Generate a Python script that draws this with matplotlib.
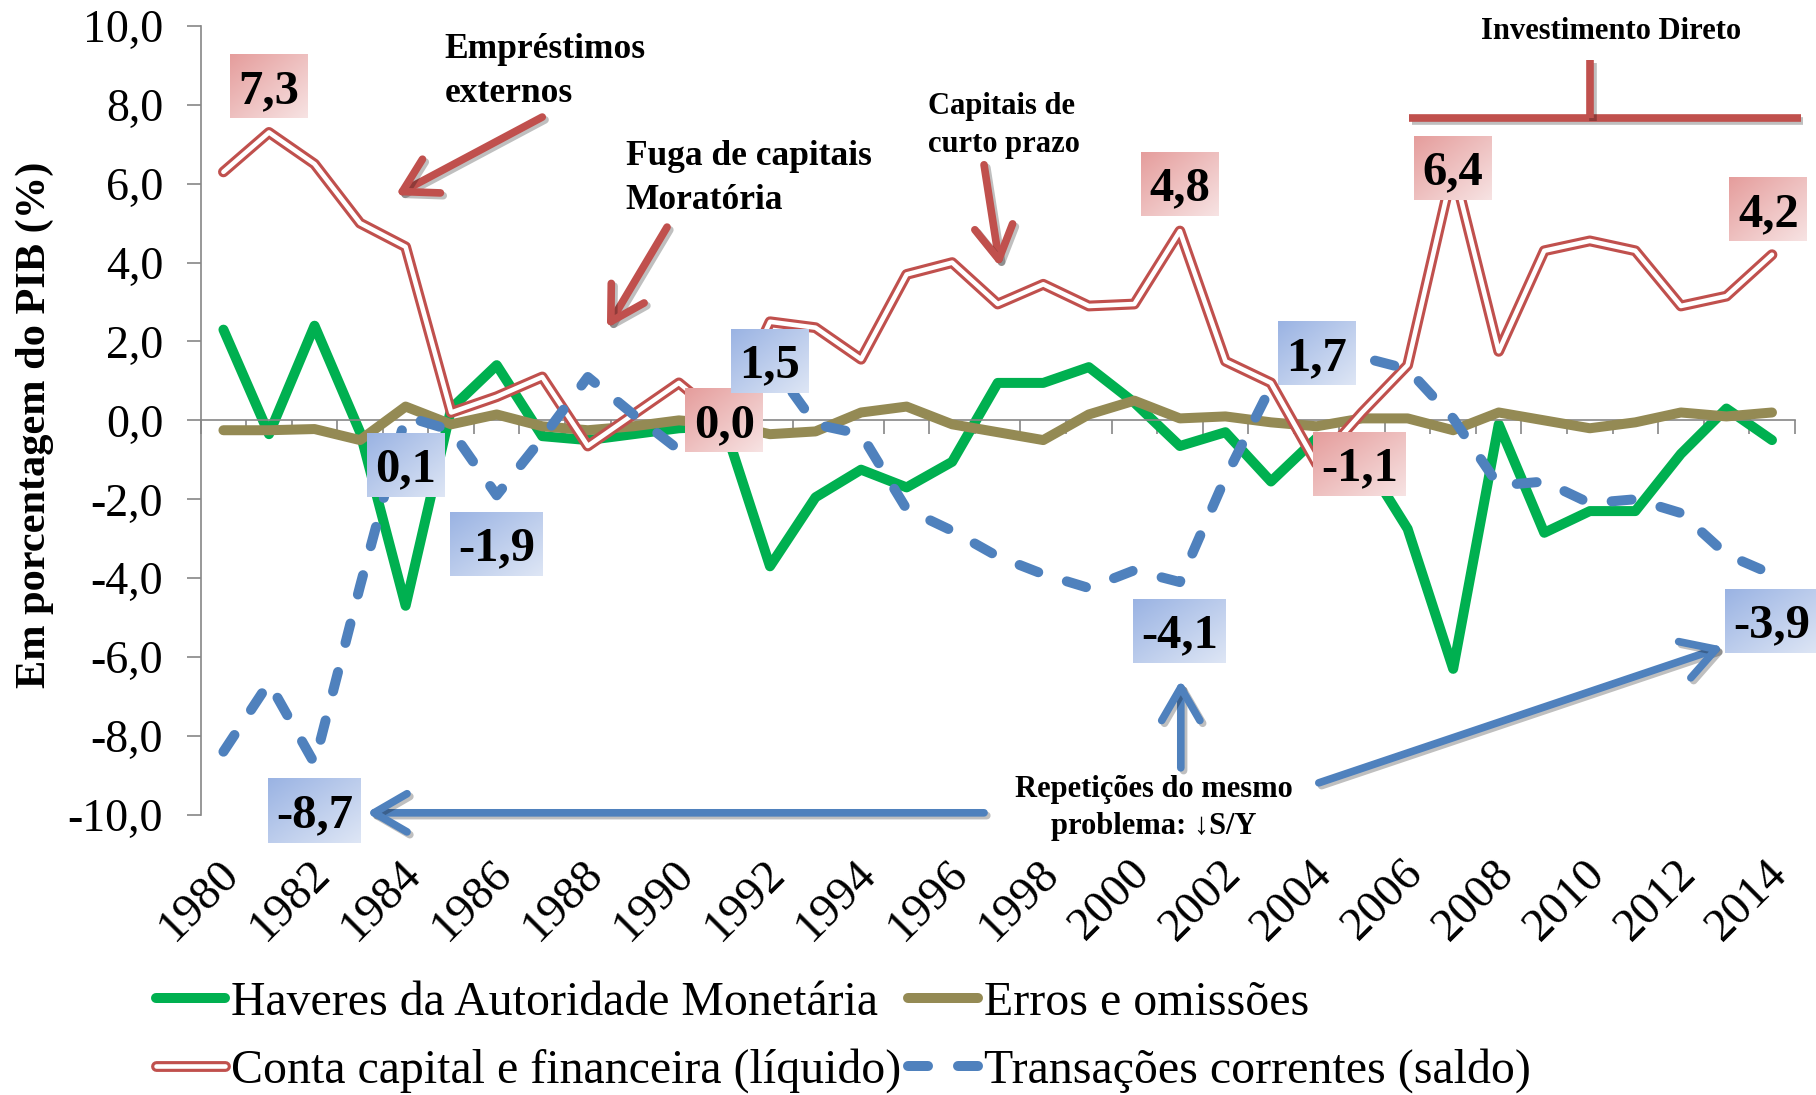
import numpy as np
import matplotlib
matplotlib.use("Agg")
import matplotlib.pyplot as plt
import matplotlib.patheffects as pe
from matplotlib.lines import Line2D
from matplotlib.legend_handler import HandlerTuple
from matplotlib.transforms import offset_copy

plt.rcParams['font.family'] = ['Liberation Serif', 'DejaVu Serif']
plt.rcParams['lines.scale_dashes'] = False

# data (% do PIB), 1980-2014
years = list(range(1980, 2015))
haveres = [2.3, -0.35, 2.4, -0.3, -4.7, 0.3, 1.4, -0.4, -0.5, -0.35,
           -0.2, -0.15, -3.7, -1.95, -1.25, -1.7, -1.05, 0.95, 0.95, 1.35,
           0.45, -0.65, -0.3, -1.55, -0.45, -0.9, -2.75, -6.3, -0.1, -2.85,
           -2.3, -2.3, -0.85, 0.3, -0.5]
erros = [-0.25, -0.25, -0.22, -0.5, 0.35, -0.1, 0.15, -0.15, -0.25, -0.15,
         0.0, -0.1, -0.35, -0.28, 0.2, 0.35, -0.1, -0.3, -0.5, 0.15,
         0.5, 0.05, 0.1, -0.05, -0.15, 0.05, 0.05, -0.25, 0.2, 0.0,
         -0.2, -0.05, 0.2, 0.1, 0.2]
conta_capital = [6.3, 7.3, 6.5, 5.0, 4.4, 0.2, 0.6, 1.1, -0.65, 0.15,
                 0.95, 0.0, 2.5, 2.35, 1.55, 3.7, 4.0, 2.95, 3.45, 2.9,
                 2.95, 4.8, 1.5, 0.95, -1.1, 0.2, 1.4, 6.4, 1.75, 4.3,
                 4.55, 4.3, 2.9, 3.15, 4.2]
transacoes = [-8.4, -6.65, -8.7, -4.2, 0.1, -0.25, -1.9, -0.45, 1.1, 0.15,
              -0.75, -0.35, 1.5, -0.1, -0.35, -2.25, -2.8, -3.45, -3.9, -4.25,
              -3.8, -4.1, -1.45, 0.85, 1.7, 1.6, 1.3, 0.05, -1.65, -1.55,
              -2.1, -2.0, -2.35, -3.4, -3.9]

series_names = ['Haveres da Autoridade Monetária', 'Erros e omissões',
                'Conta capital e financeira (líquido)', 'Transações correntes (saldo)']

# highlighted values: (year, dx, dy)
red_labels = [(1981, 0, 1.17), (1991, 0, 0.0), (2001, 0, 1.19), (2004, 0.95, 0.0),
              (2007, 0, 0.0), (2014, -0.08, 1.15)]
blue_labels = [(1982, 0, -1.2), (1984, 0, -1.23), (1986, 0, -1.23), (1992, 0, 0.0),
               (2001, 0, -1.23), (2004, 0, 0.0), (2014, 0, -1.19)]

GREEN = '#00B050'
BROWN = '#948A54'
RED = '#C0504D'
BLUE = '#4F81BD'
GREY = '#868686'

W, H, DPI = 1816, 1095, 100
fig = plt.figure(figsize=(W / DPI, H / DPI), dpi=DPI)
ax = fig.add_axes([0.1105, 0.2559, 0.8778, 0.7204])

lw = 7.2
ax.plot(years, haveres, color=GREEN, lw=lw, solid_joinstyle='round', solid_capstyle='round', zorder=2)
ax.plot(years, erros, color=BROWN, lw=lw, solid_joinstyle='round', solid_capstyle='round', zorder=3)
ax.plot(years, conta_capital, color=RED, lw=7.8, solid_joinstyle='round', solid_capstyle='round', zorder=4)
ax.plot(years, conta_capital, color='white', lw=3.3, solid_joinstyle='round', solid_capstyle='round', zorder=4)
ax.plot(years, transacoes, color=BLUE, lw=lw, dashes=(14.4, 21.6), dash_capstyle='round', zorder=5)

ax.set_xlim(1979.5, 2014.5)
ax.set_ylim(-10, 10)

# axes styling
for s in ['top', 'right']:
    ax.spines[s].set_visible(False)
ax.spines['left'].set_color(GREY)
ax.spines['bottom'].set_color(GREY)
ax.spines['left'].set_linewidth(1.2)
ax.spines['bottom'].set_linewidth(1.2)
ax.spines['bottom'].set_position(('data', 0))

yt = np.arange(-10, 11, 2)
ax.set_yticks(yt)
ax.set_yticklabels([f'{v:.1f}'.replace('.', ',') for v in yt], fontsize=33)
ax.set_xticks(np.arange(1979.5, 2015, 1.0))
ax.set_xticklabels([])
ax.tick_params(axis='both', direction='out', length=10, width=1.2, color=GREY)
ax.tick_params(axis='y', pad=17)

lab_tr = offset_copy(ax.transData, fig=fig, x=-6, y=-37, units='dots')
for yr in years[::2]:
    ax.text(yr, -10, str(yr), rotation=45, rotation_mode='anchor', ha='right', va='top',
            fontsize=34, transform=lab_tr)

fig.text(34.5 / W, 1 - 425 / H, 'Em porcentagem do PIB (%)', rotation=90, ha='center', va='center',
         fontsize=30.5, fontweight='bold')

# value boxes with gradient
px_year = 0.8778 * W / 35
px_unit = 0.7204 * H / 20


def grad_box(xc, yc, text, c0, c1):
    w = 78 if len(text) < 4 else 93
    h = 64
    dx = w / 2 / px_year
    dy = h / 2 / px_unit
    u = np.linspace(0, 1, 60)
    t = (u[None, :] + u[:, None]) / 2
    c0 = np.array(matplotlib.colors.to_rgb(c0))
    c1 = np.array(matplotlib.colors.to_rgb(c1))
    img = c0[None, None, :] * (1 - t[..., None]) + c1[None, None, :] * t[..., None]
    ax.imshow(img, extent=(xc - dx, xc + dx, yc - dy, yc + dy), origin='upper',
              aspect='auto', zorder=10, interpolation='bilinear', clip_on=False)
    ax.text(xc, yc - 16.5 / px_unit, text, ha='center', va='baseline', fontsize=35,
            fontweight='bold', zorder=11)


def fmt(v):
    return f'{v:.1f}'.replace('.', ',')


for yr, dx, dy in red_labels:
    v = conta_capital[years.index(yr)]
    grad_box(yr + dx, v + dy, fmt(v), '#E59D9C', '#F7E3E3')
for yr, dx, dy in blue_labels:
    v = transacoes[years.index(yr)]
    grad_box(yr + dx, v + dy, fmt(v), '#9AB3E3', '#DEE6F5')

ax.set_xlim(1979.5, 2014.5)
ax.set_ylim(-10, 10)

# annotation arrows
shadow = [pe.SimpleLineShadow(offset=(2, -2), alpha=0.25), pe.Normal()]


def arrow(p_from, p_to, color):
    ax.annotate('', xy=p_to, xytext=p_from, annotation_clip=False,
                arrowprops=dict(arrowstyle='->,head_length=0.95,head_width=0.55', color=color,
                                lw=5.5, mutation_scale=25, shrinkA=0, shrinkB=0,
                                capstyle='round', joinstyle='round', clip_on=False,
                                path_effects=shadow), zorder=7)


arrow((1987.0, 7.69), (1983.78, 5.71), RED)
arrow((1989.74, 4.90), (1988.42, 2.34), RED)
arrow((1996.70, 6.48), (1997.05, 3.89), RED)
arrow((1996.70, -9.95), (1983.14, -9.95), BLUE)
arrow((2001.02, -8.81), (2001.02, -6.58), BLUE)
arrow((2004.05, -9.19), (2012.93, -5.74), BLUE)

# bracket for direct investment
ax.plot([2006.03, 2014.63], [7.67, 7.67], color=RED, lw=5.5, clip_on=False,
        solid_capstyle='butt', zorder=7, path_effects=shadow)
ax.plot([2010.0, 2010.0], [7.67, 9.14], color=RED, lw=5.5, clip_on=False,
        solid_capstyle='butt', zorder=7, path_effects=shadow)

ax.text(1984.86, 9.82, 'Empréstimos\nexternos', ha='left', va='top', fontsize=25.5,
        fontweight='bold', linespacing=1.45)
ax.text(1988.83, 7.11, 'Fuga de capitais\nMoratória', ha='left', va='top', fontsize=25.5,
        fontweight='bold', linespacing=1.45)
ax.text(1995.48, 8.33, 'Capitais de\ncurto prazo', ha='left', va='top', fontsize=22,
        fontweight='bold', linespacing=1.4)
ax.text(2010.46, 9.85, 'Investimento Direto', ha='center', va='center', fontsize=22,
        fontweight='bold')
ax.text(2000.43, -9.0, 'Repetições do mesmo\nproblema: ↓S/Y', ha='center', va='top',
        fontsize=22, fontweight='bold', linespacing=1.35, zorder=12)

# legend
h_green = Line2D([], [], color=GREEN, lw=lw, solid_capstyle='round')
h_brown = Line2D([], [], color=BROWN, lw=lw, solid_capstyle='round')
h_red = (Line2D([], [], color=RED, lw=7.8, solid_capstyle='round'),
         Line2D([], [], color='white', lw=3.3, solid_capstyle='round'))
h_blue = Line2D([], [], color=BLUE, lw=lw, dashes=(14.4, 21.6), dash_capstyle='round')
fig.legend([h_green, h_red, h_brown, h_blue],
           [series_names[0], series_names[2], series_names[1], series_names[3]],
           handler_map={tuple: HandlerTuple(ndivide=1)},
           ncol=2, loc='upper left', bbox_to_anchor=(0.0857, 0.104), frameon=False,
           fontsize=34.5, handlelength=1.45, handletextpad=0.12, columnspacing=0.15,
           labelspacing=0.48, borderpad=0, borderaxespad=0)

fig.savefig('out.png', dpi=DPI, facecolor='white')
